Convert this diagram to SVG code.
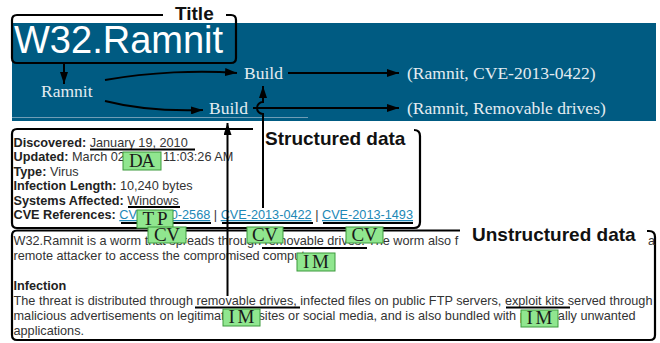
<svg xmlns="http://www.w3.org/2000/svg" width="660" height="343" viewBox="0 0 660 343">
  <style>
    .banner-txt { font-family: "Liberation Serif", "Times New Roman", serif; font-size: 17.5px; fill: #e4ecf1; }
    .page { font-family: "Liberation Sans", Arial, sans-serif; font-size: 12.7px; fill: #333; }
    .key { font-weight: bold; fill: #222; }
    .link { fill: #2188b6; text-decoration: underline; }
    .callout { font-family: "Liberation Sans", Arial, sans-serif; font-size: 19px; font-weight: bold; fill: #111; }
    .bracket { fill: none; stroke: #000; stroke-width: 2.2; }
    .mark { fill: none; stroke: #000; stroke-width: 2.2; }
    .tag rect { fill: #90e68f; stroke: #3d9a3d; stroke-width: 1; }
    .tag text { font-family: "Liberation Serif", "Times New Roman", serif; font-size: 19px; fill: #1a1a1a; text-anchor: middle; }
    .edge { fill: none; stroke: #000; stroke-width: 2; }
  </style>
  <defs>
    <marker id="arrow" viewBox="0 0 12 8" refX="12" refY="4" markerWidth="12" markerHeight="8" markerUnits="userSpaceOnUse" orient="auto">
      <path d="M0,0 L12,4 L0,8 z" fill="#000"/>
    </marker>
  </defs>

  <!-- page banner -->
  <g id="banner">
    <rect x="12" y="23" width="644" height="98" fill="#005b82"/>
    <line x1="12" y1="117.5" x2="308" y2="117.5" stroke="#6f9db6" stroke-width="1"/>
    <text x="14" y="53" font-family="'Liberation Sans', Arial, sans-serif" font-size="38" fill="#fff">W32.Ramnit</text>
  </g>

  <!-- graph nodes inside the banner -->
  <g id="node-ramnit"><text class="banner-txt" x="41" y="97">Ramnit</text></g>
  <g id="node-build-1"><text class="banner-txt" x="244" y="79">Build</text></g>
  <g id="node-build-2"><text class="banner-txt" x="209" y="114">Build</text></g>
  <g id="node-tuple-cve"><text class="banner-txt" x="407" y="79">(Ramnit, CVE-2013-0422)</text></g>
  <g id="node-tuple-drives"><text class="banner-txt" x="407" y="114">(Ramnit, Removable drives)</text></g>

  <!-- region brackets -->
  <g id="title-region">
    <path class="bracket" d="M163,15 H17 Q12,15 12,20 V58 Q12,63 17,63 H231 Q236,63 236,58 V20 Q236,15 231,15 H226"/>
    <text class="callout" x="175" y="20">Title</text>
  </g>

  <g id="structured-region">
    <path class="bracket" d="M253,129 H17 Q12,129 12,134 V223 Q12,228 17,228 H414 Q420,228 420,222 V136 Q420,130 414,130"/>
    <text class="callout" x="265" y="145">Structured data</text>
    <g class="page">
      <text x="13.5" y="146.5"><tspan class="key">Discovered:</tspan> January 19, 2010</text>
      <text x="13.5" y="161"><tspan class="key">Updated:</tspan> March 02</text>
      <text x="163" y="161">11:03:26 AM</text>
      <text x="13.5" y="175.5"><tspan class="key">Type:</tspan> Virus</text>
      <text x="13.5" y="190"><tspan class="key">Infection Length:</tspan> 10,240 bytes</text>
      <text x="13.5" y="204.5"><tspan class="key">Systems Affected:</tspan> Windows</text>
      <text x="13.5" y="219"><tspan class="key">CVE References:</tspan> <tspan class="link">CVE-2010-2568</tspan> | <tspan class="link">CVE-2013-0422</tspan> | <tspan class="link">CVE-2013-1493</tspan></text>
    </g>
  </g>

  <g id="unstructured-region">
    <path class="bracket" d="M460,230.5 H17 Q12,230.5 12,235.5 V335 Q12,340 17,340 H650 Q655,340 655,335 V237 Q655,231 649,231 H647"/>
    <g class="page">
      <text x="13.5" y="245">W32.Ramnit is a worm that spreads through removable drives. The worm also f</text>
      <text x="648" y="245">a</text>
      <text x="13.5" y="259.5">remote attacker to access the compromised computer.</text>
      <text x="13.5" y="290" class="key">Infection</text>
      <text x="13.5" y="305" textLength="639">The threat is distributed through removable drives, infected files on public FTP servers, exploit kits served through</text>
      <text x="13.5" y="320" textLength="622">malicious advertisements on legitimate websites or social media, and is also bundled with potentially unwanted</text>
      <text x="13.5" y="334.5">applications.</text>
    </g>
    <rect x="460" y="225" width="187" height="24" fill="#fff"/>
    <text class="callout" x="472" y="241">Unstructured data</text>
  </g>

  <!-- annotated spans -->
  <g id="span-marks">
    <line class="mark" x1="90" y1="149.5" x2="195" y2="149.5"/>
    <line class="mark" x1="128" y1="207" x2="180" y2="207"/>
    <line class="mark" x1="121" y1="223" x2="211" y2="223"/>
    <line class="mark" x1="222" y1="223" x2="313" y2="223"/>
    <line class="mark" x1="323" y1="223" x2="413" y2="223"/>
    <line class="mark" x1="262" y1="248" x2="367" y2="248"/>
    <line class="mark" x1="195" y1="307.5" x2="300" y2="307.5"/>
    <line class="mark" x1="506" y1="307.5" x2="570" y2="307.5"/>
  </g>

  <!-- connectors -->
  <g id="connectors">
    <line class="edge" x1="64" y1="63" x2="64" y2="84" marker-end="url(#arrow)"/>
    <path class="edge" d="M105,80 C150,72 200,70 237,73" marker-end="url(#arrow)"/>
    <path class="edge" d="M105,101 C140,110 172,111 203,110" marker-end="url(#arrow)"/>
    <line class="edge" x1="288" y1="73" x2="399" y2="73" marker-end="url(#arrow)"/>
    <line class="edge" x1="253" y1="108" x2="399" y2="108" marker-end="url(#arrow)"/>
    <path class="edge" d="M263,208 V114 A6,6 0 0 1 263,102 V86" marker-end="url(#arrow)"/>
    <line class="edge" x1="227.5" y1="296" x2="227.5" y2="123" marker-end="url(#arrow)"/>
  </g>

  <!-- entity tags -->
  <g id="tag-da" class="tag"><rect x="123" y="152" width="38" height="18"/><text x="142" y="167" textLength="26">DA</text></g>
  <g id="tag-tp" class="tag"><rect x="137" y="210" width="36" height="18"/><text x="155" y="225" textLength="25">TP</text></g>
  <g id="tag-cv-1" class="tag"><rect x="148" y="227" width="38" height="16"/><text x="167" y="240.5" textLength="26">CV</text></g>
  <g id="tag-cv-2" class="tag"><rect x="247" y="227" width="36" height="16"/><text x="265" y="240.5" textLength="26">CV</text></g>
  <g id="tag-cv-3" class="tag"><rect x="346" y="227" width="37" height="16"/><text x="364.5" y="240.5" textLength="26">CV</text></g>
  <g id="tag-im-1" class="tag"><rect x="297" y="253" width="38" height="18"/><text x="316" y="268" textLength="26">IM</text></g>
  <g id="tag-im-2" class="tag"><rect x="223" y="309" width="37" height="17"/><text x="241.5" y="323" textLength="26">IM</text></g>
  <g id="tag-im-3" class="tag"><rect x="521" y="310" width="37" height="17"/><text x="539.5" y="324" textLength="26">IM</text></g>
</svg>
